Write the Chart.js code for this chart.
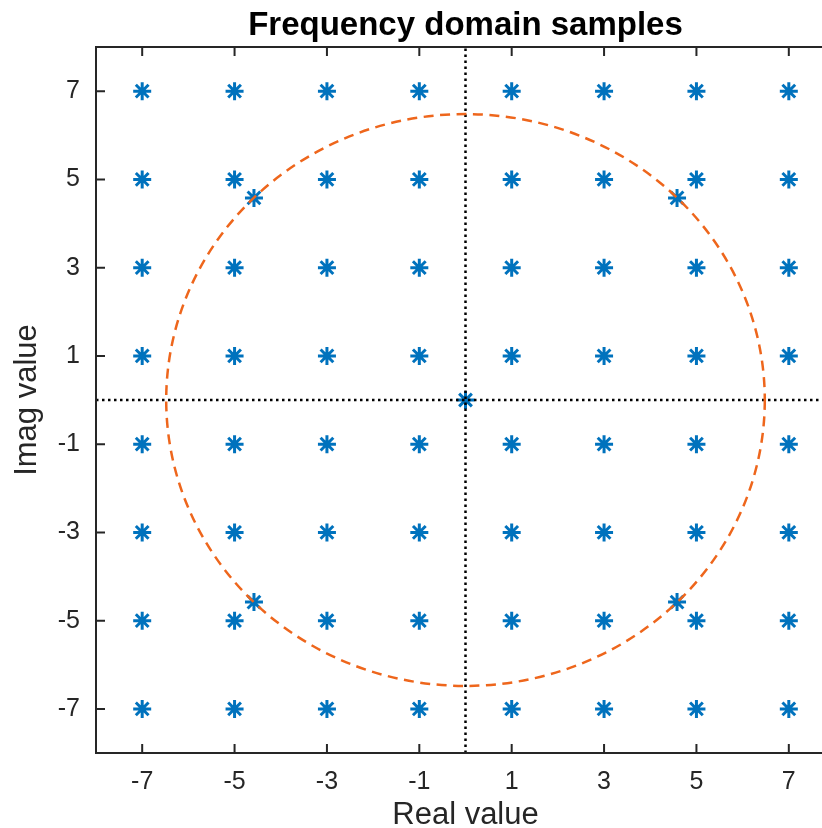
<!DOCTYPE html>
<html>
<head>
<meta charset="utf-8">
<title>Frequency domain samples</title>
<script src="https://cdn.jsdelivr.net/npm/chart.js@4"></script>
<style>
    html, body { margin: 0; padding: 0; background: #fff; overflow: hidden; }
    #wrap { width: 822px; height: 828px; overflow: hidden; }
</style>
</head>
<body>
<div id="wrap"><canvas id="chart" width="840" height="828"></canvas></div>
<script>
// --- Data ---
const levels = [-7, -5, -3, -1, 1, 3, 5, 7];          // 64-QAM constellation levels
const extraRe = [0, -4.58, 4.58, -4.58, 4.58];        // extra samples (real)
const extraIm = [0, 4.58, 4.58, -4.58, -4.58];        // extra samples (imag)
const circleRadius = 6.48;
const xTicks = [-7, -5, -3, -1, 1, 3, 5, 7];
const yTicks = [-7, -5, -3, -1, 1, 3, 5, 7];
const axisMin = -8;
const axisMax = 8;

const blue = '#0072BD';
const orange = '#EE661C';
const axisColor = '#262626';
const fontFamily = '"Liberation Sans", Arial, Helvetica, sans-serif';

// Build point table from the arrays
const gridPoints = [];
levels.forEach(re => levels.forEach(im => gridPoints.push({ x: re, y: im })));
const extraPoints = extraRe.map((re, i) => ({ x: re, y: extraIm[i] }));

// --- Plugin: circle, frame, inward ticks, title and axis labels ---
const framePlugin = {
    id: 'frame',
    afterDatasetsDraw(chart) {
        const { ctx, scales: { x, y } } = chart;
        const cx = x.getPixelForValue(0);
        const cy = y.getPixelForValue(0);
        const rx = x.getPixelForValue(circleRadius) - cx;
        const ry = cy - y.getPixelForValue(circleRadius);
        ctx.save();
        ctx.strokeStyle = orange;
        ctx.lineWidth = 2.5;
        ctx.setLineDash([10, 6.5]);
        ctx.beginPath();
        ctx.ellipse(cx, cy, rx, ry, 0, 0, Math.PI * 2);
        ctx.stroke();
        ctx.restore();
    },
    afterDraw(chart) {
        const { ctx, chartArea: a, scales: { x, y } } = chart;
        ctx.save();
        ctx.strokeStyle = axisColor;
        ctx.lineWidth = 2;
        ctx.strokeRect(a.left, a.top, a.right - a.left, a.bottom - a.top);

        // inward ticks on all four sides
        const tl = 9;
        ctx.beginPath();
        xTicks.forEach(v => {
            const px = x.getPixelForValue(v);
            ctx.moveTo(px, a.bottom); ctx.lineTo(px, a.bottom - tl);
            ctx.moveTo(px, a.top); ctx.lineTo(px, a.top + tl);
        });
        yTicks.forEach(v => {
            const py = y.getPixelForValue(v);
            ctx.moveTo(a.left, py); ctx.lineTo(a.left + tl, py);
            ctx.moveTo(a.right, py); ctx.lineTo(a.right - tl, py);
        });
        ctx.stroke();

        const midX = (a.left + a.right) / 2;
        const midY = (a.top + a.bottom) / 2;

        // title
        ctx.fillStyle = '#000';
        ctx.font = 'bold 33px ' + fontFamily;
        ctx.textAlign = 'center';
        ctx.textBaseline = 'alphabetic';
        ctx.fillText('Frequency domain samples', midX, 35);

        // axis labels
        ctx.fillStyle = axisColor;
        ctx.font = '31px ' + fontFamily;
        ctx.fillText('Real value', midX, 824);

        ctx.translate(36, midY);
        ctx.rotate(-Math.PI / 2);
        ctx.fillText('Imag value', 0, 0);
        ctx.restore();
    }
};

const tickFont = { family: fontFamily, size: 25 };

new Chart(document.getElementById('chart'), {
    type: 'scatter',
    data: {
        datasets: [
            {
                label: 'Samples',
                data: gridPoints.concat(extraPoints),
                pointStyle: 'star',
                pointRadius: 9,
                pointBorderWidth: 3,
                borderColor: blue,
                backgroundColor: blue,
                order: 2
            },
            {
                label: 'Real axis',
                data: [{ x: axisMin, y: 0 }, { x: axisMax, y: 0 }],
                type: 'line',
                borderColor: '#000',
                borderWidth: 2.5,
                borderDash: [2.5, 3.5],
                pointRadius: 0,
                fill: false,
                order: 1
            },
            {
                label: 'Imag axis',
                data: [{ x: 0, y: axisMin }, { x: 0, y: axisMax }],
                type: 'line',
                borderColor: '#000',
                borderWidth: 2.5,
                borderDash: [2.5, 3.5],
                pointRadius: 0,
                fill: false,
                order: 1
            }
        ]
    },
    options: {
        responsive: false,
        animation: false,
        devicePixelRatio: 1,
        layout: { autoPadding: false, padding: { top: 47, right: 5, left: 0, bottom: 0 } },
        scales: {
            x: {
                type: 'linear',
                min: axisMin,
                max: axisMax,
                afterBuildTicks: s => { s.ticks = xTicks.map(v => ({ value: v })); },
                afterFit: s => { s.height = 75; s.paddingLeft = 0; s.paddingRight = 0; },
                grid: { display: false, drawTicks: false },
                border: { display: false },
                ticks: { color: axisColor, font: tickFont, padding: 14, maxRotation: 0 }
            },
            y: {
                type: 'linear',
                min: axisMin,
                max: axisMax,
                afterBuildTicks: s => { s.ticks = yTicks.map(v => ({ value: v })); },
                afterFit: s => { s.width = 96; s.paddingTop = 0; s.paddingBottom = 0; },
                grid: { display: false, drawTicks: false },
                border: { display: false },
                ticks: { color: axisColor, font: tickFont, padding: 16 }
            }
        },
        plugins: {
            legend: { display: false },
            tooltip: { enabled: false }
        }
    },
    plugins: [framePlugin]
});
</script>
</body>
</html>
